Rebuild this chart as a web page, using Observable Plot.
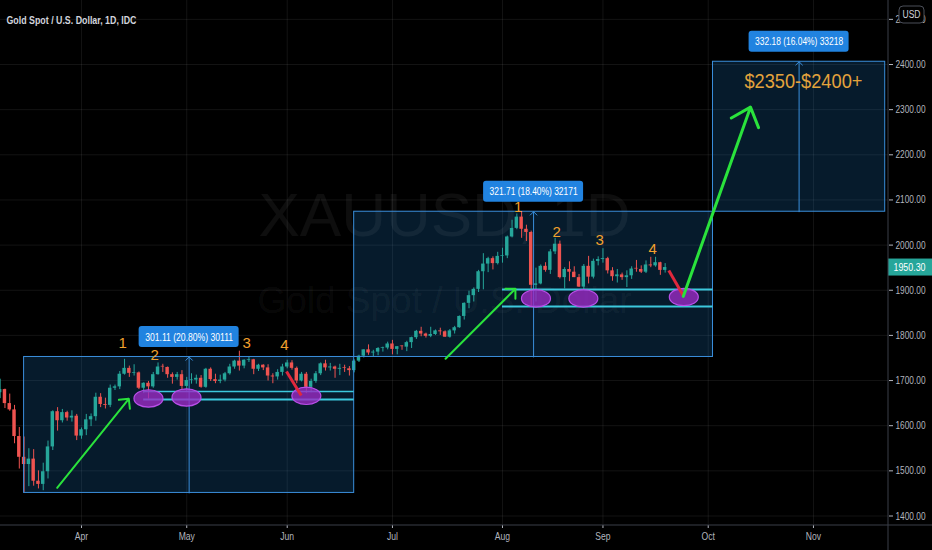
<!DOCTYPE html>
<html><head><meta charset="utf-8">
<script src="https://cdn.jsdelivr.net/npm/d3@7"></script>
<script src="https://cdn.jsdelivr.net/npm/@observablehq/plot@0.6"></script>
<style>html,body{margin:0;padding:0;background:#000;overflow:hidden}#chart{width:932px;height:550px}</style>
</head><body><div id="chart"></div>
<script>
// ---- DATA ----
// Daily bars of XAUUSD (weekdays) from Mar 9 2020 to Sep 18 2020; index 0 = Apr 1 2020
const firstBarIndex = -17;
const open  = [1673,1680,1649,1635,1576,1530,1514,1526,1477,1470,1498,1553,1631,1611,1629,1617,1621,
  1577,1591,1613,1620,1663,1647,1645,1683,1686,1714,1727,1716,1717,1683,1694,1686,1713,1730,1729,1713,1707,1713,
  1687,1700,1701,1705,1685,1725,1702,1698,1701,1715,1730,1743,1732,1745,1746,1725,1734,1728,1710,1708,1718,
  1730,1739,1727,1699,1714,1685,1698,1715,1737,1728,1730,1725,1727,1726,1722,1743,1754,1768,1761,1763,1771,1772,
  1781,1769,1775,1774,1784,1795,1809,1803,1798,1802,1810,1808,1796,1810,1817,1842,1871,1888,1902,1941,1958,1970,1959,
  1975,1976,2018,2037,2062,2035,2028,1911,1914,1953,1944,1985,2002,1928,1946,1940,1928,1907,1953,1929,1964,
  1968,1970,1943,1930,1934,1928,1932,1947,1946,1940,1956,1954,1961,1944];
const high  = [1703,1681,1670,1645,1596,1575,1549,1547,1500,1517,1566,1633,1640,1636,1632,1633,1625,
  1595,1625,1626,1672,1671,1661,1690,1690,1720,1747,1732,1735,1719,1695,1698,1718,1739,1736,1730,1717,1718,1722,
  1707,1715,1712,1711,1727,1728,1714,1712,1718,1736,1745,1765,1746,1753,1747,1736,1735,1735,1715,1724,1736,
  1745,1744,1730,1718,1718,1703,1720,1739,1745,1738,1732,1736,1734,1731,1746,1756,1768,1779,1767,1773,1774,1785,
  1789,1775,1777,1787,1796,1811,1818,1805,1818,1812,1816,1810,1813,1820,1843,1872,1898,1905,1944,1981,1973,1974,1984,
  1993,2020,2055,2069,2074,2044,2031,1949,1956,1961,1990,2015,2009,1950,1963,1952,1935,1957,1975,1969,1974,
  1992,1973,1950,1946,1938,1943,1952,1966,1954,1965,1973,1973,1962,1959];
const low   = [1660,1638,1632,1560,1504,1451,1465,1466,1460,1456,1482,1545,1588,1606,1610,1608,1567,
  1570,1578,1598,1610,1640,1637,1640,1678,1680,1712,1707,1710,1680,1671,1659,1683,1712,1718,1705,1692,1701,1680,
  1676,1692,1692,1683,1683,1698,1693,1693,1697,1712,1725,1721,1726,1740,1713,1720,1722,1699,1693,1701,1710,
  1726,1723,1693,1697,1671,1673,1694,1711,1721,1721,1705,1711,1718,1710,1717,1740,1750,1756,1752,1755,1763,1768,
  1757,1757,1767,1764,1771,1791,1797,1794,1795,1800,1800,1796,1794,1803,1816,1834,1859,1874,1895,1901,1939,1945,1956,
  1960,1970,2016,2034,2015,2008,1863,1874,1912,1940,1935,1979,1925,1903,1919,1928,1906,1901,1914,1925,1954,
  1960,1936,1920,1916,1922,1906,1924,1940,1937,1937,1950,1951,1933,1938];
const close = [1680,1649,1635,1576,1530,1514,1526,1477,1470,1498,1553,1631,1611,1629,1617,1621,1577,
  1591,1613,1620,1663,1647,1645,1683,1686,1714,1727,1716,1717,1683,1694,1686,1713,1730,1729,1713,1707,1713,1687,
  1700,1701,1705,1685,1725,1702,1698,1701,1715,1730,1743,1732,1745,1746,1725,1734,1728,1710,1708,1718,1730,
  1739,1727,1699,1714,1685,1698,1715,1737,1728,1730,1725,1727,1726,1722,1743,1754,1768,1761,1763,1771,1772,1781,
  1769,1775,1774,1784,1795,1809,1803,1798,1802,1810,1808,1796,1810,1817,1842,1871,1888,1902,1941,1958,1970,1959,1975,
  1976,2018,2037,2062,2035,2028,1911,1914,1953,1944,1985,2002,1928,1946,1940,1928,1907,1953,1929,1964,1968,
  1970,1943,1930,1934,1928,1932,1947,1946,1940,1956,1954,1961,1944,1950.30];

// month ticks (bar index of first trading day)
const monthTickIndex = [0, 22, 43, 65, 88, 109, 131, 153];
const monthTickLabel = ["Apr","May","Jun","Jul","Aug","Sep","Oct","Nov"];
const priceTicks = [1400,1500,1600,1700,1800,1900,2000,2100,2200,2300,2400,2500];

// price-range drawings
const rangeBoxes = [
  {a: -12, b: 57,  lo: 1451.09, hi: 1752.20, label: "301.11 (20.80%) 30111"},
  {a: 57,  b: 132, lo: 1752.20, hi: 2073.91, label: "321.71 (18.40%) 32171"},
  {a: 132, b: 168, lo: 2073.91, hi: 2406.09, label: "332.18 (16.04%) 33218"}
];
const supportLevels = [
  {a: 13.0, b: 57,  p: 1675.8, w: 1.3},
  {a: 13.0, b: 57,  p: 1658.0, w: 2},
  {a: 88.0, b: 132, p: 1901.7, w: 1.8},
  {a: 88.0, b: 132, p: 1864.0, w: 2}
];
const touchEllipses = [
  {i: 14.0, p: 1660.3}, {i: 21.95, p: 1662.5}, {i: 47.0, p: 1666.2},
  {i: 95.0, p: 1882.0}, {i: 104.9, p: 1882.0}, {i: 125.9, p: 1885.0}
];
const peakNumbers = [
  {i: 8.6, p: 1782, t: "1"}, {i: 15.3, p: 1755.5, t: "2"}, {i: 34.5, p: 1782, t: "3"}, {i: 42.4, p: 1777.6, t: "4"},
  {i: 91.3, p: 2083.3, t: "1"}, {i: 99.3, p: 2028, t: "2"}, {i: 108.3, p: 2010, t: "3"}, {i: 119.4, p: 1990, t: "4"}
];
const greenArrows = [
  {i1: -5.09, p1: 1462.4, i2: 9.89,   p2: 1659.6, w: 2, head: 7.5, angle: 90},
  {i1: 76.1,  p1: 1748.2, i2: 90.7,   p2: 1903.2, w: 2, head: 7.5, angle: 90},
  {i1: 125.8, p1: 1886.5, i2: 139.84, p2: 2305.5, w: 3, head: 11,  angle: 82}
];
const redArrows = [
  {i1: 42.85, p1: 1720.0, i2: 45.93, p2: 1666.8},
  {i1: 122.77, p1: 1943.6, i2: 125.77, p2: 1888.2}
];
const targetText = [{i: 150.9, p: 2362.3, t: "$2350-$2400+"}];
const titleText = "Gold Spot / U.S. Dollar, 1D, IDC";
const watermark1 = "XAUUSD, 1D";
const watermark2 = "Gold Spot / U.S. Dollar";

// ---- BUILD ----
const candles = open.map((o, k) => ({i: firstBarIndex + k, o, h: high[k], l: low[k], c: close[k]}));
const up = "#26a69a", down = "#ef5350";
const col = d => d.c >= d.o ? up : down;
const xDomain = [-16.931, 168.687];
const yDomain = [1378.96, 2541.75];
const mid = d => (d.a + d.b) / 2;
const sans = "'Liberation Sans',Arial,sans-serif";
const ellipseSymbol = {draw(ctx) {
  const rx = 14.5, ry = 8.7, k = 0.5523;
  ctx.moveTo(rx, 0);
  ctx.bezierCurveTo(rx, ry*k, rx*k, ry, 0, ry);
  ctx.bezierCurveTo(-rx*k, ry, -rx, ry*k, -rx, 0);
  ctx.bezierCurveTo(-rx, -ry*k, -rx*k, -ry, 0, -ry);
  ctx.bezierCurveTo(rx*k, -ry, rx, -ry*k, rx, 0);
  ctx.closePath();
}};
const lastClose = close[close.length - 1];

const chart = Plot.plot({
  width: 932, height: 550,
  marginLeft: 0, marginRight: 44, marginTop: 0, marginBottom: 25,
  style: {background: "#000", color: "#b2b5be", fontFamily: sans, fontSize: "11px", overflow: "visible"},
  x: {type: "linear", domain: xDomain, axis: null},
  y: {type: "linear", domain: yDomain, axis: null},
  marks: [
    Plot.ruleY(priceTicks, {stroke: "#ffffff", strokeOpacity: 0.075}),
    Plot.ruleX(monthTickIndex, {stroke: "#ffffff", strokeOpacity: 0.075}),
    Plot.rect(rangeBoxes, {x1: "a", x2: "b", y1: "lo", y2: "hi", fill: "#2196f3", fillOpacity: 0.18}),
    Plot.text([watermark1], {frameAnchor: "middle", text: d => d, dy: -47, fontSize: 62, fill: "#ffffff", fillOpacity: 0.055}),
    Plot.text([watermark2], {frameAnchor: "middle", text: d => d, dy: 38, fontSize: 37, fill: "#ffffff", fillOpacity: 0.055}),
    Plot.ruleX(candles, {x: "i", y1: "l", y2: "h", stroke: col, strokeWidth: 1}),
    Plot.rect(candles, {x1: d => d.i - 0.36, x2: d => d.i + 0.36, y1: "o",
      y2: d => Math.abs(d.c - d.o) < 1.5 ? d.o + 1.5 : d.c, fill: col}),
    Plot.rect(rangeBoxes, {x1: "a", x2: "b", y1: "lo", y2: "hi", fill: "none", stroke: "#3a8fdc", strokeWidth: 1}),
    Plot.arrow(rangeBoxes, {x1: mid, x2: mid, y1: "lo", y2: "hi", stroke: "#3a8fdc", strokeWidth: 1, headLength: 7, headAngle: 90}),
    Plot.ruleY(supportLevels, {y: "p", x1: "a", x2: "b", stroke: "#3cc8dc", strokeWidth: "w"}),
    Plot.dot(touchEllipses, {x: "i", y: "p", symbol: ellipseSymbol, fill: "#9a2bc4", fillOpacity: 0.8, stroke: "#b94fe8", strokeWidth: 1.2}),
    Plot.link(redArrows, {x1: "i1", y1: "p1", x2: "i2", y2: "p2", stroke: "#e0283c", strokeWidth: 3}),
    ...greenArrows.map(g => Plot.arrow([g], {x1: "i1", y1: "p1", x2: "i2", y2: "p2", stroke: "#2ae23c", strokeWidth: g.w, headLength: g.head, headAngle: g.angle})),
    Plot.text(peakNumbers, {x: "i", y: "p", text: "t", fill: "#f2a12e", fontSize: 15}),
    Plot.rect(rangeBoxes, {x1: mid, x2: mid, y1: "hi", y2: "hi", insetLeft: -50, insetRight: -50, insetTop: -10.5, insetBottom: -10.5, dy: -20, rx: 3, fill: "#2183e0"}),
    Plot.text(rangeBoxes, {x: mid, y: "hi", text: "label", dy: -20, fill: "#ffffff", fontSize: 11, ariaDescription: "range-label"}),
    Plot.text(targetText, {x: "i", y: "p", text: "t", fill: "#e3a33c", fontSize: 21, ariaDescription: "target"}),
    Plot.text([titleText], {frameAnchor: "top-left", text: d => d, dx: 6, dy: 15, textAnchor: "start", fill: "#d1d4dc", fontSize: 11.5, fontWeight: "bold", ariaDescription: "title"}),
    Plot.axisY(priceTicks, {anchor: "right", tickSize: 4, tickPadding: 3, tickFormat: d => d.toFixed(2), fontSize: 11, label: null, ariaDescription: "yaxis"}),
    Plot.axisX(monthTickIndex, {anchor: "bottom", tickSize: 3, tickPadding: 4, tickFormat: (d, k) => monthTickLabel[k], fontSize: 11, label: null, ariaDescription: "xaxis"}),
    Plot.rect([lastClose], {x1: xDomain[1], x2: xDomain[1], y1: d => d, y2: d => d, insetLeft: 0, insetRight: -44, insetTop: -8.5, insetBottom: -8.5, fill: up}),
    Plot.text([lastClose], {x: xDomain[1], y: d => d, text: d => d.toFixed(2), dx: 5, textAnchor: "start", fill: "#ffffff", fontSize: 11, ariaDescription: "price"})
  ]
});
document.getElementById("chart").appendChild(chart);

const svg = d3.select(chart);
// condense texts to match the narrow chart font
function squeeze(desc, len) {
  svg.selectAll(`g[aria-description="${desc}"] text`).each(function() {
    const w = typeof len === "function" ? len(this.getComputedTextLength()) : len;
    this.setAttribute("textLength", w);
    this.setAttribute("lengthAdjust", "spacingAndGlyphs");
  });
}
squeeze("yaxis", 30);
squeeze("xaxis", w => w * 0.78);
squeeze("range-label", 88);
squeeze("title", 130);
squeeze("target", 118);
squeeze("price", 32);

// axis border lines and currency badge
const xr = chart.scale("x").range[1], yb = chart.scale("y").range[0];
svg.append("line").attr("x1", xr).attr("x2", xr).attr("y1", 0).attr("y2", 550).attr("stroke", "#3a3e48");
svg.append("line").attr("x1", 0).attr("x2", 932).attr("y1", yb).attr("y2", yb).attr("stroke", "#3a3e48");
svg.append("rect").attr("x", xr + 11).attr("y", 6).attr("width", 25).attr("height", 17).attr("rx", 4)
  .attr("fill", "#000").attr("stroke", "#4a4e58");
svg.append("text").attr("x", xr + 23.5).attr("y", 15).attr("text-anchor", "middle").attr("dominant-baseline", "middle")
  .attr("fill", "#d1d4dc").attr("font-size", 10).attr("font-family", sans)
  .attr("textLength", 18).attr("lengthAdjust", "spacingAndGlyphs").text("USD");
</script></body></html>
